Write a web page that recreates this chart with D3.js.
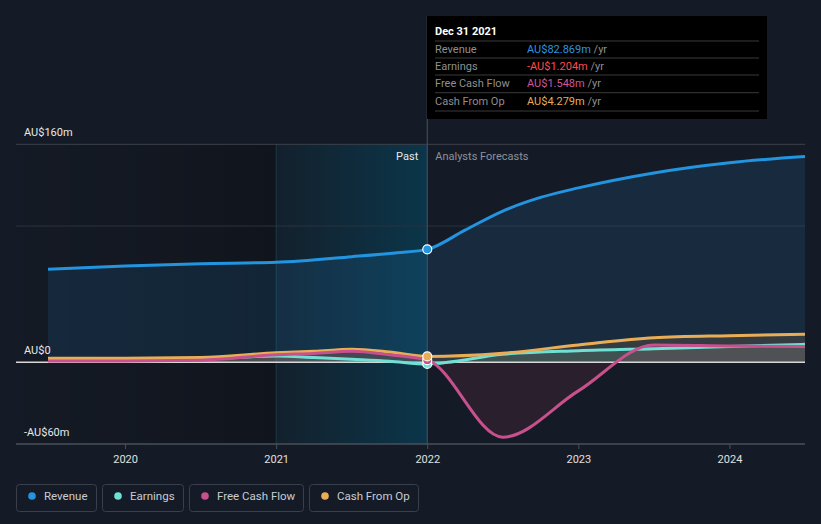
<!DOCTYPE html>
<html><head><meta charset="utf-8">
<script src="https://cdn.jsdelivr.net/npm/d3@7"></script>
<style>
body{margin:0;background:#151b26;}
svg{display:block;font-family:Roboto,"Noto Sans",sans-serif;}
</style></head><body>
<svg id="c" width="821" height="524"></svg>
<script>
// ---- data (AU$ millions, x in fractional years) ----
const revenueYears = [2019.49, 2020.0, 2020.5, 2021.0, 2021.5, 2021.8, 2022.0, 2022.25, 2022.5, 2022.75, 2023.0, 2023.5, 2024.0, 2024.5];
const revenueValues = [68.3, 70.7, 72.4, 73.4, 77.5, 80.4, 82.869, 97, 111, 121, 128, 139, 146.5, 151];
const flowYears = [2019.49, 2020.0, 2020.5, 2021.0, 2021.25, 2021.5, 2021.75, 2022.0, 2022.5, 2023.0, 2023.5, 2024.0, 2024.5];
const earningsValues = [2.3, 2.3, 2.5, 4.6, 3.5, 2.2, 0.8, -1.204, 5.9, 8.5, 10, 11.5, 13.2];
const fcfValues = [1.0, 1.0, 1.5, 5.5, 6.5, 8.0, 5.5, 1.548, -55, -21, 12.7, 12, 11.5];
const cfoValues = [3.0, 3.0, 3.5, 7.0, 8.0, 9.5, 7.5, 4.279, 6.6, 12.7, 18, 19.5, 20.5];
const seriesNames = ["Revenue", "Earnings", "Free Cash Flow", "Cash From Op"];
const seriesColors = ["#2394df", "#6fe0d3", "#c7508d", "#e9ad58"];
const areaColors = ["#2394df", "#6fe0d3", "#d8406a", "#e9ad58"];
const tooltipValues = ["AU$82.869m", "-AU$1.204m", "AU$1.548m", "AU$4.279m"];
const tooltipValueColors = ["#2b95e0", "#ff4c4c", "#d1559a", "#e9ad55"];
const tooltipTitle = "Dec 31 2021";
const xTicks = [2020, 2021, 2022, 2023, 2024];
const yLabelValues = [160, 0, -60];
const yLabelTexts = ["AU$160m", "AU$0", "-AU$60m"];
const gridValues = [160, 100];
const nowYear = 2022.0, bandStart = 2021.0;

(function () {
const svg = d3.select("#c");
const W = 821, H = 524;
const pL = 16, pR = 805, pT = 144.3, pB = 444;
const x = d3.scaleLinear().domain([2019.49, 2024.5]).range([48, 805]);
const y = d3.scaleLinear().domain([-60, 160]).range([pB, pT]);

svg.append("rect").attr("width", W).attr("height", H).attr("fill", "#151b26");

const defs = svg.append("defs");
const g1 = defs.append("linearGradient").attr("id", "pastDark").attr("x1", 0).attr("x2", 1).attr("y1", 0).attr("y2", 0);
g1.append("stop").attr("offset", 0).attr("stop-color", "#000").attr("stop-opacity", 0.03);
g1.append("stop").attr("offset", 1).attr("stop-color", "#000").attr("stop-opacity", 0.24);
const g2 = defs.append("linearGradient").attr("id", "band").attr("x1", 0).attr("x2", 1).attr("y1", 0).attr("y2", 0);
g2.append("stop").attr("offset", 0).attr("stop-color", "#05465f").attr("stop-opacity", 0.12);
g2.append("stop").attr("offset", 1).attr("stop-color", "#05465f").attr("stop-opacity", 0.62);

svg.append("rect").attr("x", pL).attr("y", pT).attr("width", x(bandStart) - pL).attr("height", pB - pT).attr("fill", "url(#pastDark)");
svg.append("rect").attr("x", x(bandStart)).attr("y", pT).attr("width", x(nowYear) - x(bandStart)).attr("height", pB - pT).attr("fill", "url(#band)");
svg.append("line").attr("x1", x(bandStart)).attr("x2", x(bandStart)).attr("y1", pT).attr("y2", pB).attr("stroke", "#1d3a46").attr("stroke-width", 1);

svg.selectAll(".grid").data(gridValues).enter().append("line")
  .attr("x1", pL).attr("x2", pR).attr("y1", d => y(d)).attr("y2", d => y(d))
  .attr("stroke", (d, i) => i === 0 ? "#3c424c" : "#2a3340").attr("stroke-width", 1);

const rev = revenueYears.map((t, i) => ({t, v: revenueValues[i]}));
const mk = vals => flowYears.map((t, i) => ({t, v: vals[i]}));
const flows = [mk(earningsValues), mk(fcfValues), mk(cfoValues)];
const curve = d3.curveMonotoneX;
const area = d3.area().x(d => x(d.t)).y0(y(0)).y1(d => y(d.v)).curve(curve);
const line = d3.line().x(d => x(d.t)).y(d => y(d.v)).curve(curve);

svg.append("path").attr("d", area(rev)).attr("fill", areaColors[0]).attr("fill-opacity", 0.13);
flows.forEach((s, i) => {
  svg.append("path").attr("d", area(s)).attr("fill", areaColors[i + 1]).attr("fill-opacity", i === 1 ? 0.11 : 0.14);
});

svg.append("line").attr("x1", pL).attr("x2", pR).attr("y1", y(0)).attr("y2", y(0)).attr("stroke", "#d8d8d8").attr("stroke-width", 1.5);

svg.append("path").attr("d", line(rev)).attr("fill", "none").attr("stroke", seriesColors[0]).attr("stroke-width", 3);
[0, 2, 1].forEach(i => {
  svg.append("path").attr("d", line(flows[i])).attr("fill", "none").attr("stroke", seriesColors[i + 1]).attr("stroke-width", 3);
});

svg.append("line").attr("x1", pL).attr("x2", pR).attr("y1", pB).attr("y2", pB).attr("stroke", "#4a505a").attr("stroke-width", 1.5);
const ax = svg.append("g").attr("transform", `translate(0,${pB})`)
  .call(d3.axisBottom(x).tickValues(xTicks).tickFormat(d3.format("d")).tickSize(5).tickPadding(6));
ax.select(".domain").remove();
ax.selectAll(".tick line").attr("stroke", "#4a505a");
ax.selectAll(".tick text").attr("fill", "#e0e0e0").attr("font-size", 11).attr("font-family", "Roboto,sans-serif");

svg.selectAll(".ylab").data(yLabelValues).enter().append("text")
  .attr("x", 24).attr("y", d => y(d) - 8).text((d, i) => yLabelTexts[i])
  .attr("fill", "#e8e8e8").attr("font-size", 11);

svg.append("text").attr("x", x(nowYear) - 9).attr("y", 160).attr("text-anchor", "end").attr("fill", "#e8e8e8").attr("font-size", 11).text("Past");
svg.append("text").attr("x", x(nowYear) + 8).attr("y", 160).attr("fill", "#8b919b").attr("font-size", 11).text("Analysts Forecasts");

svg.append("line").attr("x1", x(nowYear)).attr("x2", x(nowYear)).attr("y1", 16).attr("y2", pB).attr("stroke", "#4a5260").attr("stroke-width", 1);

const markerVals = [revenueValues[6], cfoValues[7], fcfValues[7], earningsValues[7]];
const markerCols = [seriesColors[0], seriesColors[3], seriesColors[2], seriesColors[1]];
[3, 2, 1, 0].forEach(i => {
  svg.append("circle").attr("cx", x(nowYear)).attr("cy", y(markerVals[i])).attr("r", 4.5)
    .attr("fill", markerCols[i]).attr("stroke", "#ffffff").attr("stroke-width", 1.2);
});

const tt = svg.append("g");
tt.append("rect").attr("x", 427).attr("y", 16).attr("width", 340).attr("height", 103).attr("fill", "#000000");
tt.append("text").attr("x", 435).attr("y", 35).attr("fill", "#ffffff").attr("font-size", 11).attr("font-weight", "bold").text(tooltipTitle);
const sepY = [41, 58, 75, 92.7, 111];
sepY.forEach(sy => tt.append("line").attr("x1", 435).attr("x2", 759).attr("y1", sy).attr("y2", sy).attr("stroke", "#3a3a3a").attr("stroke-width", 1));
const rowY = [52.5, 69.5, 87, 104.5];
seriesNames.forEach((n, i) => {
  tt.append("text").attr("x", 435).attr("y", rowY[i]).attr("fill", "#8f8f8f").attr("font-size", 11).text(n);
  const t = tt.append("text").attr("x", 527).attr("y", rowY[i]).attr("font-size", 11);
  t.append("tspan").attr("fill", tooltipValueColors[i]).text(tooltipValues[i]);
  t.append("tspan").attr("fill", "#8f8f8f").text(" /yr");
});

let lx = 16;
seriesNames.forEach((n, i) => {
  const g = svg.append("g");
  const r = g.append("rect").attr("x", lx + 0.5).attr("y", 484.5).attr("height", 27).attr("rx", 3)
    .attr("fill", "none").attr("stroke", "#3a404b").attr("stroke-width", 1);
  g.append("circle").attr("cx", lx + 16).attr("cy", 496).attr("r", 3.8).attr("fill", seriesColors[i]);
  const t = g.append("text").attr("x", lx + 28).attr("y", 500).attr("fill", "#c8ccd2").attr("font-size", 11.5).text(n);
  const w = Math.round(t.node().getComputedTextLength() + 37);
  r.attr("width", w - 1);
  lx += w + 5;
});
})();
</script>
</body></html>
